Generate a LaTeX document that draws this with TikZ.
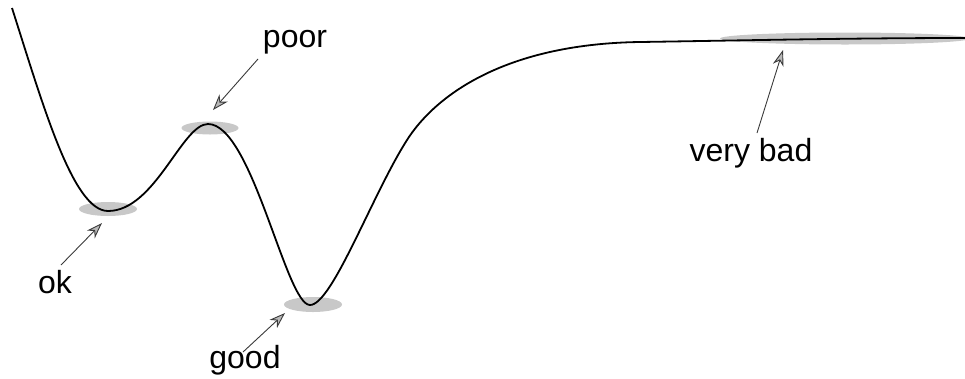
\documentclass[tikz,border=0pt]{standalone}
\usepackage{fontspec}
\setmainfont{Liberation Sans}
\usetikzlibrary{arrows.meta,shapes.geometric}
\definecolor{blobgray}{HTML}{C8C8C8}
\definecolor{headgray}{HTML}{B8B8B8}
\definecolor{linegray}{HTML}{3A3A3A}
\tikzset{
  blob/.style={ellipse, fill=blobgray, draw=none, inner sep=0pt},
  lbl/.style={anchor=base, inner sep=0pt, font=\fontsize{32}{38}\selectfont},
  pointer/.style={draw=linegray, line width=0.9pt,
    -{Stealth[length=16pt, width=11pt, inset=5pt, fill=headgray, line width=0.9pt]}},
  landscape/.style={line width=1.8pt, black, line join=round}
}
\begin{document}
\begin{tikzpicture}[x=1pt,y=-1pt]
\useasboundingbox (0,0) rectangle (965,378);
\begin{scope}
\clip (0,0) rectangle (965,378);
\node[blob, minimum width=58pt, minimum height=14pt] (okb) at (108,209) {};
\node[blob, minimum width=57pt, minimum height=13pt] (poorb) at (210,128) {};
\node[blob, minimum width=58pt, minimum height=15pt] (goodb) at (313,304.5) {};
\node[blob, minimum width=250pt, minimum height=12pt] (badb) at (845,38.5) {};
\draw[landscape] (12,8)
  .. controls (43,105) and (73,211) .. (108,211)
  .. controls (155,211) and (182,124) .. (208,124)
  .. controls (252,124) and (286,305) .. (310,305)
  .. controls (332,305) and (372,195) .. (407,140)
  .. controls (433,99) and (500,44) .. (640,42)
  .. controls (740,40.5) and (850,38) .. (965,38);
\end{scope}
\node[lbl] (poor) at (295,47) {poor};
\node[lbl] (ok) at (55,293) {ok};
\node[lbl] (good) at (245,368) {good};
\node[lbl] (bad) at (751,161) {very bad};
\coordinate (poorS) at (258,59);
\coordinate (poorT) at (213,110);
\coordinate (okS) at (61,265);
\coordinate (okT) at (102,223);
\coordinate (goodS) at (243,352);
\coordinate (goodT) at (285,313);
\coordinate (badS) at (757,133);
\coordinate (badT) at (783,50);
\draw[pointer] (poorS) -- (poorT);
\draw[pointer] (okS) -- (okT);
\draw[pointer] (goodS) -- (goodT);
\draw[pointer] (badS) -- (badT);
\end{tikzpicture}
\end{document}
